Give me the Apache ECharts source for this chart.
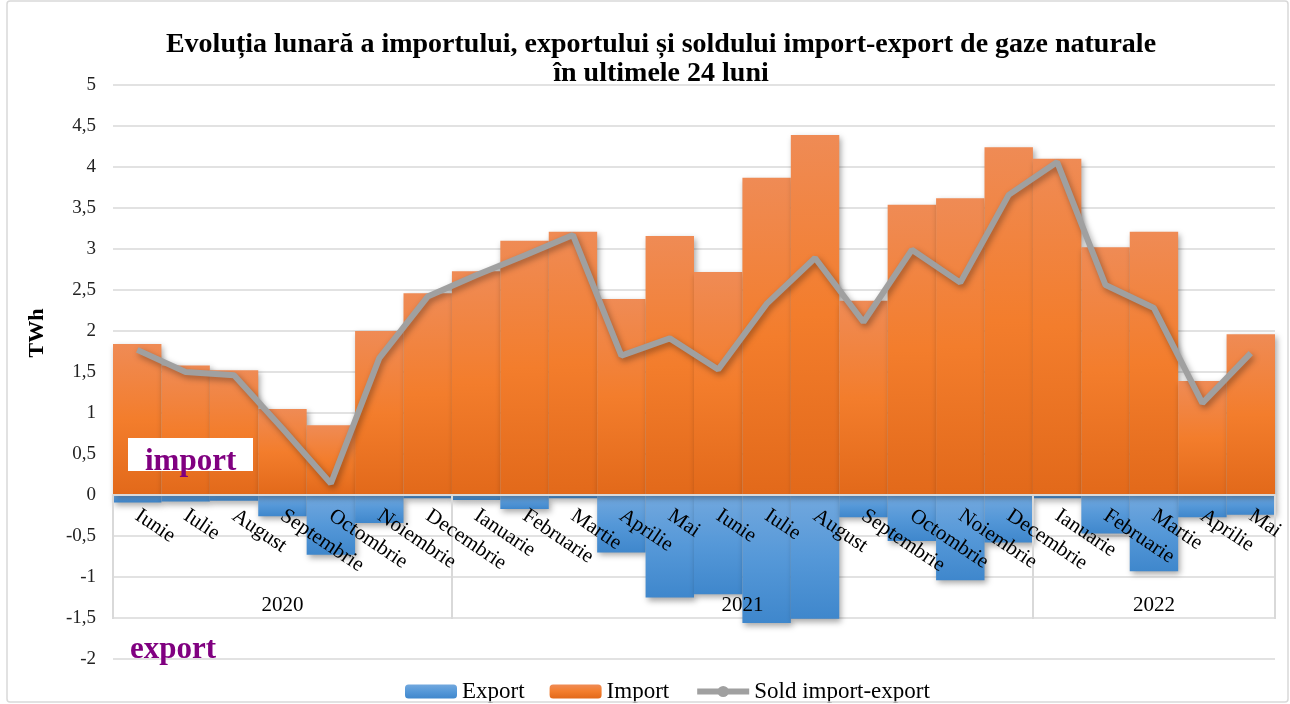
<!DOCTYPE html>
<html>
<head>
<meta charset="utf-8">
<script src="https://cdn.jsdelivr.net/npm/echarts@6/dist/echarts.min.js"></script>
<style>
html,body{margin:0;padding:0;background:#fff;}
#c{width:1290px;height:704px;}
</style>
</head>
<body>
<div id="c"></div>
<script>
const months = ['Iunie','Iulie','August','Septembrie','Octombrie','Noiembrie','Decembrie',
  'Ianuarie','Februarie','Martie','Aprilie','Mai','Iunie','Iulie','August','Septembrie','Octombrie','Noiembrie','Decembrie',
  'Ianuarie','Februarie','Martie','Aprilie','Mai'];
const years = ['2020','2021','2022'];
const yearSpans = [7, 12, 5];
const importValues = [1.84,1.58,1.52,1.05,0.85,2.00,2.46,2.73,3.10,3.21,2.39,3.16,2.72,3.87,4.39,2.37,3.54,3.62,4.24,4.10,3.02,3.21,1.39,1.96];
const exportValues = [-0.09,-0.08,-0.07,-0.26,-0.73,-0.34,-0.04,-0.06,-0.17,-0.04,-0.70,-1.25,-1.21,-1.56,-1.51,-0.27,-0.56,-1.04,-0.58,-0.04,-0.47,-0.93,-0.27,-0.24];
const soldValues = [1.77,1.50,1.46,0.81,0.14,1.67,2.42,2.68,2.92,3.17,1.70,1.91,1.53,2.33,2.89,2.11,2.99,2.59,3.66,4.06,2.56,2.28,1.12,1.73];
const yTicks = {min: -2, max: 5, interval: 0.5};

// derived year boundaries / centers
const yearBounds = [0];
const yearCenters = [];
yearSpans.forEach((s, i) => { yearCenters.push(yearBounds[i] + s / 2); yearBounds.push(yearBounds[i] + s); });

const serif = 'Liberation Serif';
const chart = echarts.init(document.getElementById('c'), null, {renderer: 'canvas'});
const LG = echarts.graphic.LinearGradient;

chart.setOption({
  backgroundColor: '#fff',
  animation: false,
  title: {
    text: 'Evoluția lunară a importului, exportului și soldului import-export de gaze naturale\nîn ultimele 24 luni',
    left: 656, top: 25, textAlign: 'center',
    textStyle: {fontFamily: serif, fontWeight: 'bold', fontSize: 28, lineHeight: 29, color: '#000'}
  },
  legend: {
    left: 400, top: 675,
    itemWidth: 52, itemHeight: 14, itemGap: 25,
    textStyle: {fontFamily: serif, fontSize: 23, color: '#000'},
    lineStyle: {width: 6},
    data: ['Export', 'Import', 'Sold import-export']
  },
  grid: [
    {left: 113, right: 15, top: 85, bottom: 45, outerBoundsMode: 'none'},
    {left: 113, right: 15, top: 495, bottom: 85, outerBoundsMode: 'none'},
    {left: 113, right: 15, top: 85, bottom: 209, outerBoundsMode: 'none'}
  ],
  xAxis: [
    {
      type: 'category', data: months, gridIndex: 0,
      axisLine: {show: false}, axisTick: {show: false}, axisLabel: {show: false}
    },
    {
      type: 'value', gridIndex: 1, min: 0, max: 24, z: 5,
      axisLine: {show: false},
      splitLine: {show: false},
      axisTick: {show: true, inside: true, length: 124, customValues: yearBounds, lineStyle: {color: '#D9D9D9', width: 2}},
      axisLabel: {inside: true, margin: 3, customValues: yearCenters, fontFamily: serif, fontSize: 21, color: '#000',
        formatter: v => { const i = yearCenters.indexOf(v); return i >= 0 ? years[i] : ''; }}
    },
    {
      type: 'category', data: months, gridIndex: 2, z: 5,
      axisLine: {show: true, lineStyle: {color: '#D9D9D9', width: 2}},
      axisTick: {show: false},
      axisLabel: {rotate: -34, margin: 19, interval: 0, fontFamily: serif, fontSize: 21, color: '#000'}
    }
  ],
  yAxis: [
    {
      type: 'value', gridIndex: 0, min: yTicks.min, max: yTicks.max, interval: yTicks.interval,
      axisLine: {show: false}, axisTick: {show: false},
      splitLine: {lineStyle: {color: '#D9D9D9', width: 1.5}},
      axisLabel: {margin: 17, fontFamily: serif, fontSize: 19, color: '#222',
        formatter: v => String(Math.round(v * 10) / 10).replace('.', ',')}
    },
    {type: 'value', gridIndex: 1, show: false, min: 0, max: 1},
    {type: 'value', gridIndex: 2, show: false, min: 0, max: 1}
  ],
  series: [
    {
      name: 'Export', type: 'bar', data: exportValues, barGap: '-100%', barCategoryGap: 0,
      itemStyle: {
        color: new LG(0, 0, 0, 1, [{offset: 0, color: '#72A8DE'}, {offset: 0.5, color: '#5598D8'}, {offset: 1, color: '#3F87CC'}]),
        shadowBlur: 6, shadowOffsetX: 2, shadowOffsetY: 3, shadowColor: 'rgba(0,0,0,0.35)'
      }
    },
    {
      name: 'Import', type: 'bar', data: importValues, barGap: '-100%', barCategoryGap: 0,
      itemStyle: {
        color: new LG(0, 0, 0, 1, [{offset: 0, color: '#EF8B55'}, {offset: 0.5, color: '#F37D2C'}, {offset: 1, color: '#E2691A'}]),
        shadowBlur: 6, shadowOffsetX: 2, shadowOffsetY: 3, shadowColor: 'rgba(0,0,0,0.35)'
      }
    },
    {
      name: 'Sold import-export', type: 'line', data: soldValues, z: 4,
      symbol: 'circle', symbolSize: 12, showSymbol: false,
      lineStyle: {color: '#A0A0A0', width: 6, shadowBlur: 6, shadowOffsetX: 2, shadowOffsetY: 3, shadowColor: 'rgba(0,0,0,0.35)'},
      itemStyle: {color: '#A0A0A0'}
    }
  ],
  graphic: [
    {type: 'rect', z: 100, silent: true, shape: {x: 7, y: 1, width: 1281, height: 701, r: 3}, style: {fill: 'none', stroke: '#D9D9D9', lineWidth: 1.5}},
    {type: 'rect', z: 100, shape: {x: 128, y: 438, width: 125, height: 33}, style: {fill: '#fff'}},
    {type: 'text', z: 101, style: {text: 'import', x: 145, y: 462, textVerticalAlign: 'middle', fill: '#800080', font: 'bold 31px "Liberation Serif"'}},
    {type: 'text', z: 101, style: {text: 'export', x: 130, y: 650, textVerticalAlign: 'middle', fill: '#800080', font: 'bold 31px "Liberation Serif"'}},
    {type: 'text', z: 101, rotation: Math.PI / 2, x: 37, y: 333, style: {text: 'TWh', textAlign: 'center', textVerticalAlign: 'middle', fill: '#000', font: 'bold 22px "Liberation Serif"'}}
  ]
});
</script>
</body>
</html>
